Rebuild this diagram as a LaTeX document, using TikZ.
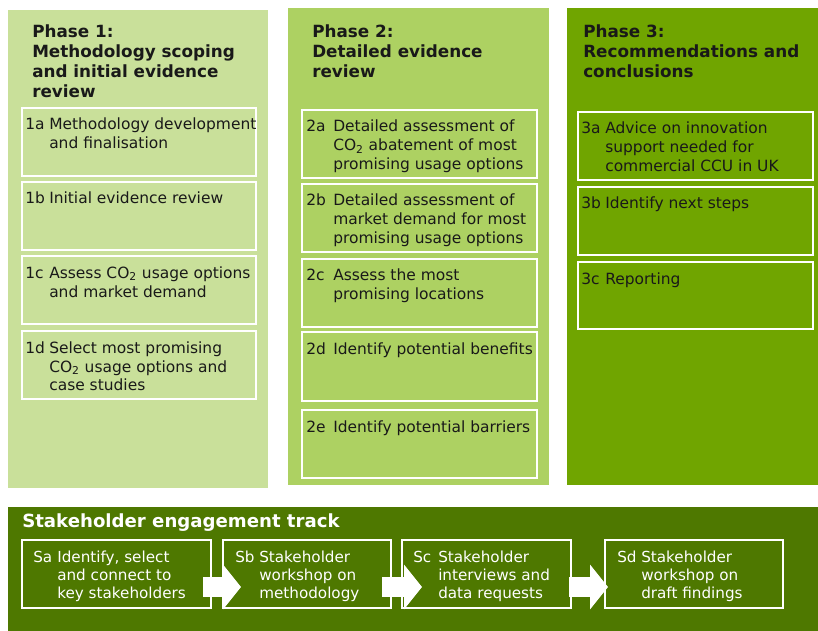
\documentclass[tikz,border=0pt]{standalone}
\usepackage{fontspec}
\setmainfont{DejaVu Sans}
\usetikzlibrary{fit,arrows.meta}
\definecolor{pone}{RGB}{201,224,154}
\definecolor{ptwo}{RGB}{173,209,98}
\definecolor{pthree}{RGB}{112,165,0}
\definecolor{pstake}{RGB}{78,120,0}
\definecolor{ink}{RGB}{25,25,25}
\newcommand\lines[1]{\begin{tabular}[t]{@{}l@{}}#1\end{tabular}}
\begin{document}
\begin{tikzpicture}[x=0.75pt,y=-0.75pt,
  panel/.style={draw=none,inner sep=0pt,outer sep=0pt},
  box/.style={draw=white,line width=1.5pt,inner sep=0pt,outer sep=0pt},
  head/.style={inner sep=0pt,anchor=base west,text=ink,font=\fontsize{12.6}{15}\selectfont\bfseries},
  shead/.style={inner sep=0pt,anchor=base west,text=white,font=\fontsize{13.6}{15}\selectfont\bfseries},
  txt/.style={inner sep=0pt,anchor=base west,text=ink,font=\fontsize{11.6}{14.25}\selectfont},
  stxt/.style={inner sep=0pt,anchor=base west,text=white,font=\fontsize{11.4}{13.75}\selectfont},
  flow/.style={draw=white,line width=15pt,line cap=butt,-{Triangle[length=13.5pt,width=33pt]}}]
\useasboundingbox (0,0) rectangle (818,631);
\fill[white] (0,0) rectangle (818,631);

% panels
\node[panel,fill=pone,fit={(8,10)(268,488)}] (p1) {};
\node[panel,fill=ptwo,fit={(288,8)(549,485)}] (p2) {};
\node[panel,fill=pthree,fit={(567,8)(818,485)}] (p3) {};
\node[panel,fill=pstake,fit={(8,507)(818,631)}] (ps) {};

% headings
\node[head] (h1) at (32,38) {\lines{Phase 1:\\Methodology scoping\\and initial evidence\\review}};
\node[head] (h2) at (312,38) {\lines{Phase 2:\\Detailed evidence\\review}};
\node[head] (h3) at (583,38) {\lines{Phase 3:\\Recommendations and\\conclusions}};
\node[shead] (hs) at (22,527) {Stakeholder engagement track};

% phase 1 boxes
\node[box,fit={(22,108)(256,176)}] (b1a) {};
\node[box,fit={(22,182)(256,250)}] (b1b) {};
\node[box,fit={(22,256)(256,324)}] (b1c) {};
\node[box,fit={(22,331)(256,399)}] (b1d) {};
\node[txt] (l1a) at ([shift={(3,22)}]b1a.north west) {1a};
\node[txt] (t1a) at ([shift={(27,22)}]b1a.north west) {\lines{Methodology development\\and finalisation}};
\node[txt] (l1b) at ([shift={(3,22)}]b1b.north west) {1b};
\node[txt] (t1b) at ([shift={(27,22)}]b1b.north west) {\lines{Initial evidence review}};
\node[txt] (l1c) at ([shift={(3,22)}]b1c.north west) {1c};
\node[txt] (t1c) at ([shift={(27,22)}]b1c.north west) {\lines{Assess CO\textsubscript{2} usage options\\and market demand}};
\node[txt] (l1d) at ([shift={(3,22)}]b1d.north west) {1d};
\node[txt] (t1d) at ([shift={(27,22)}]b1d.north west) {\lines{Select most promising\\CO\textsubscript{2} usage options and\\case studies}};

% phase 2 boxes
\node[box,fit={(302,110)(537,178)}] (b2a) {};
\node[box,fit={(302,184)(537,252)}] (b2b) {};
\node[box,fit={(302,259)(537,327)}] (b2c) {};
\node[box,fit={(302,332)(537,401)}] (b2d) {};
\node[box,fit={(302,410)(537,478)}] (b2e) {};
\node[txt] (l2a) at ([shift={(4,22)}]b2a.north west) {2a};
\node[txt] (t2a) at ([shift={(31,22)}]b2a.north west) {\lines{Detailed assessment of\\CO\textsubscript{2} abatement of most\\promising usage options}};
\node[txt] (l2b) at ([shift={(4,22)}]b2b.north west) {2b};
\node[txt] (t2b) at ([shift={(31,22)}]b2b.north west) {\lines{Detailed assessment of\\market demand for most\\promising usage options}};
\node[txt] (l2c) at ([shift={(4,22)}]b2c.north west) {2c};
\node[txt] (t2c) at ([shift={(31,22)}]b2c.north west) {\lines{Assess the most\\promising locations}};
\node[txt] (l2d) at ([shift={(4,22)}]b2d.north west) {2d};
\node[txt] (t2d) at ([shift={(31,22)}]b2d.north west) {\lines{Identify potential benefits}};
\node[txt] (l2e) at ([shift={(4,22)}]b2e.north west) {2e};
\node[txt] (t2e) at ([shift={(31,22)}]b2e.north west) {\lines{Identify potential barriers}};

% phase 3 boxes
\node[box,fit={(578,112)(813,180)}] (b3a) {};
\node[box,fit={(578,187)(813,255)}] (b3b) {};
\node[box,fit={(578,262)(813,329)}] (b3c) {};
\node[txt] (l3a) at ([shift={(3,22)}]b3a.north west) {3a};
\node[txt] (t3a) at ([shift={(27,22)}]b3a.north west) {\lines{Advice on innovation\\support needed for\\commercial CCU in UK}};
\node[txt] (l3b) at ([shift={(3,22)}]b3b.north west) {3b};
\node[txt] (t3b) at ([shift={(27,22)}]b3b.north west) {\lines{Identify next steps}};
\node[txt] (l3c) at ([shift={(3,22)}]b3c.north west) {3c};
\node[txt] (t3c) at ([shift={(27,22)}]b3c.north west) {\lines{Reporting}};

% stakeholder boxes
\node[box,fit={(22,540)(211,608)}] (sa) {};
\node[box,fit={(223,540)(391,608)}] (sb) {};
\node[box,fit={(402,540)(571,608)}] (sc) {};
\node[box,fit={(605,540)(783,608)}] (sd) {};
\node[stxt] (lsa) at ([shift={(11,22)}]sa.north west) {Sa};
\node[stxt] (tsa) at ([shift={(35,22)}]sa.north west) {\lines{Identify, select\\and connect to\\key stakeholders}};
\node[stxt] (lsb) at ([shift={(12,22)}]sb.north west) {Sb};
\node[stxt] (tsb) at ([shift={(36,22)}]sb.north west) {\lines{Stakeholder\\workshop on\\methodology}};
\node[stxt] (lsc) at ([shift={(11,22)}]sc.north west) {Sc};
\node[stxt] (tsc) at ([shift={(36,22)}]sc.north west) {\lines{Stakeholder\\interviews and\\data requests}};
\node[stxt] (lsd) at ([shift={(12,22)}]sd.north west) {Sd};
\node[stxt] (tsd) at ([shift={(36,22)}]sd.north west) {\lines{Stakeholder\\workshop on\\draft findings}};

% arrows
\draw[flow] ([shift={(-8,13)}]sa.east) -- ([shift={(18,13)}]sb.west);
\draw[flow] ([shift={(-9,13)}]sb.east) -- ([shift={(20,13)}]sc.west);
\draw[flow] ([shift={(-2,13)}]sc.east) -- ([shift={(3,13)}]sd.west);
\end{tikzpicture}
\end{document}
